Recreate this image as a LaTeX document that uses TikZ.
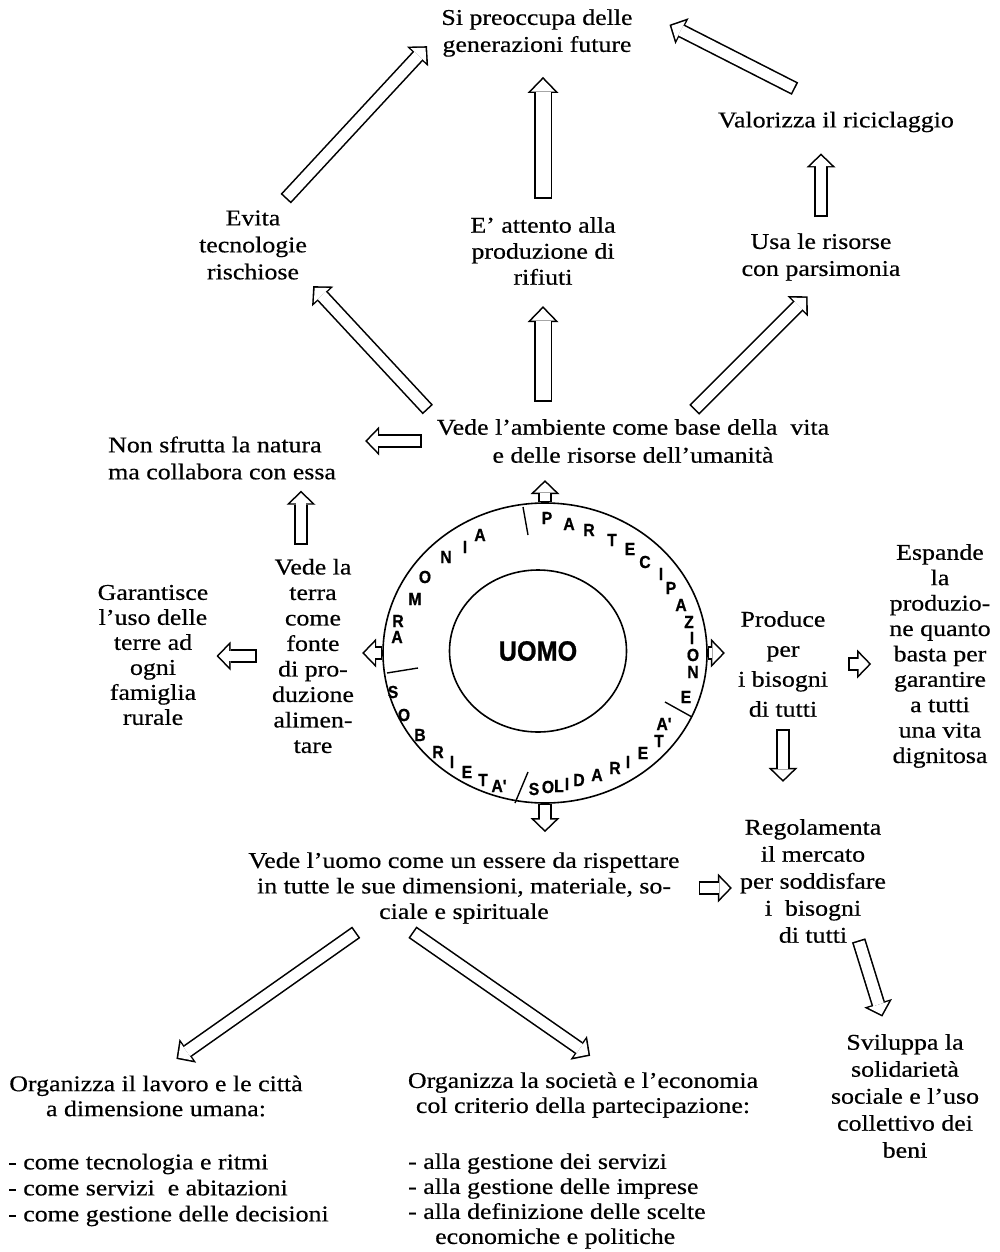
\documentclass[tikz,border=0pt]{standalone}
\usepackage{fontspec}
\setmainfont{Liberation Serif}[FakeStretch=1.15,FakeBold=0.5]
\newfontfamily\ringfont{Liberation Sans}[FakeStretch=0.9,FakeBold=0.8]
\usetikzlibrary{arrows.meta,shapes.geometric}

\begin{document}
\begin{tikzpicture}[x=1pt,y=-1pt,
 ls/.style={font=\fontsize{22.5}{#1}\selectfont},
 txt/.style={align=center,inner sep=2pt,ls=27},
 lst/.style={txt,align=left,anchor=west},
 lett/.style={inner sep=0pt,font=\ringfont\bfseries\fontsize{17.5}{17.5}\selectfont},
 sep/.style={line width=1.4pt},
 fat/.style 2 args={preaction={draw=black,line width=18pt,shorten <=#1,shorten >=#2,
   -{Triangle[width=31pt,length=16pt,line width=0pt]}},
   draw=white,line width=15pt,shorten <=#1+1.6pt,shorten >=#2+2.3pt,
   -{Triangle[width=23.8pt,length=12.3pt,line width=0pt]}},
 slim/.style 2 args={preaction={draw=black,line width=14pt,shorten <=#1,shorten >=#2,
   -{Triangle[width=29pt,length=14pt,line width=0pt]}},
   draw=white,line width=10.8pt,shorten <=#1+1.6pt,shorten >=#2+2.2pt,
   -{Triangle[width=21.5pt,length=10.4pt,line width=0pt]}}]
\useasboundingbox (0,0) rectangle (999,1252);

\node[txt] (futuro) at (537,33) {Si preoccupa delle\\generazioni future};
\node[txt] (ricicla) at (836,122) {Valorizza il riciclaggio};
\node[txt] (tecno) at (253,245) {Evita\\tecnologie\\rischiose};
\node[txt,ls=26] (rifiuti) at (543,251) {E' attento alla\\produzione di\\rifiuti};
\node[txt] (risorse) at (821,257) {Usa le risorse\\con parsimonia};
\node[txt,ls=28] (ambiente) at (633,441) {Vede l'ambiente come base della~ vita\\e delle risorse dell'umanità};
\node[lst] (natura) at (106,458) {Non sfrutta la natura\\ma collabora con essa};
\node[txt,ls=25.5] (terra) at (313,656) {Vede la\\terra\\come\\fonte\\di pro-\\duzione\\alimen-\\tare};
\node[txt,ls=25] (famiglia) at (153,655) {Garantisce\\l'uso delle\\terre ad\\ogni\\famiglia\\rurale};
\node[txt,ls=30] (produce) at (783,664) {Produce\\per\\i bisogni\\di tutti};
\node[txt,ls=25.4] (espande) at (940,656) {Espande\\la\\produzio-\\ne quanto\\basta per\\garantire\\a tutti\\una vita\\dignitosa};
\node[txt,ls=25.5] (persona) at (464,888) {Vede l'uomo come un essere da rispettare\\in tutte le sue dimensioni, materiale, so-\\ciale e spirituale};
\node[txt] (mercato) at (813,881) {Regolamenta\\il mercato\\per soddisfare\\i~ bisogni\\di tutti};
\node[txt] (solidale) at (905,1096) {Sviluppa la\\solidarietà\\sociale e l'uso\\collettivo dei\\beni};
\node[txt,ls=25] (lavoro) at (156,1096) {Organizza il lavoro e le città\\a dimensione umana:};
\node[lst,ls=26] (lavlista) at (6,1190) {- come tecnologia e ritmi\\- come servizi~ e abitazioni\\- come gestione delle decisioni};
\node[txt,ls=25] (societa) at (583,1095) {Organizza la società e l'economia\\col criterio della partecipazione:};
\node[lst,ls=25] (soclista) at (406,1201) {- alla gestione dei servizi\\- alla gestione delle imprese\\- alla definizione delle scelte\\\hspace*{1.2em}economiche e politiche};

\node[draw,ellipse,line width=1.6pt,minimum width=324pt,minimum height=300pt] (anello) at (545,653) {};
\node[draw,ellipse,line width=1.6pt,minimum width=177pt,minimum height=162pt,
 font=\ringfont\bfseries\fontsize{28}{28}\selectfont] (uomo) at (538,651) {UOMO};
\foreach \x/\y/\c [count=\i] in {397/637/A,398/621/R,415/599/M,425/577/O,446/557/N,465/547/I,480/535/A,
 547/518/P,569/524/A,589/530/R,612/540/T,630/549/E,645/562/C,661/574/I,671/588/P,681/605/A,689/622/Z,692/638/I,693/655/O,693/672/N,686/697/E,
 393/692/S,404/715/O,420/735/B,438/752/R,452/762/I,467/772/E,483/780/T,499/786/{A'},
 534/789/S,548/787/O,559/786/L,567/784/I,579/780/D,597/775/A,615/768/R,628/762/I,643/753/E,659/741/T,664/724/{A'}}
 \node[lett] (ch\i) at (\x,\y) {\c};
\draw[sep] (523,507) -- (528,535);
\draw[sep] (387,673) -- (418,668);
\draw[sep] (515,803) -- (528,772);
\draw[sep] (665,702) -- (692,717);

\draw[slim={13pt}{18pt}] (tecno.57) -- (futuro.west);
\draw[fat={16pt}{18pt}] (rifiuti.north) -- (rifiuti.north |- futuro.south);
\draw[slim={46pt}{39pt}] (ricicla.north) -- (futuro.north east);
\draw[slim={14pt}{19pt}] (risorse.north) -- (risorse.north |- ricicla.south);
\draw[slim={10pt}{6pt}] (ambiente.north west) -- (tecno.south east);
\draw[fat={15pt}{19pt}] (rifiuti.south |- ambiente.north) -- (rifiuti.south);
\draw[slim={10pt}{19pt}] (ambiente.24) -- (risorse.south);
\draw[slim={13pt}{27pt}] (ambiente.west) -- (ambiente.west -| natura.east);
\draw[slim={12pt}{9pt}] ([xshift=-12pt]terra.north) -- ([xshift=-12pt]terra.north |- natura.south);
\draw[slim={13pt}{6pt}] (terra.west) -- (terra.west -| famiglia.east);
\draw[slim={0pt}{6pt}] (anello.west) -- (anello.west -| terra.east);
\draw[slim={0pt}{15pt}] (anello.north) -- (anello.north |- ambiente.south);
\draw[slim={0pt}{11pt}] (anello.east) -- (anello.east -| produce.west);
\draw[slim={0pt}{18pt}] (anello.south) -- (anello.south |- persona.north);
\draw[slim={18pt}{16pt}] (produce.east) -- (produce.east -| espande.west);
\draw[slim={10pt}{35pt}] (produce.south) -- (produce.south |- mercato.north);
\draw[slim={17pt}{6pt}] (persona.east) -- (persona.east -| mercato.west);
\draw[slim={-5pt}{16pt}] ([xshift=-28pt]mercato.south east) -- ([xshift=-18pt]solidale.north);
\draw[slim={11pt}{25pt}] (persona.201) -- (lavoro.north);
\draw[slim={11pt}{25pt}] (persona.212) -- (societa.42);
\end{tikzpicture}
\end{document}
